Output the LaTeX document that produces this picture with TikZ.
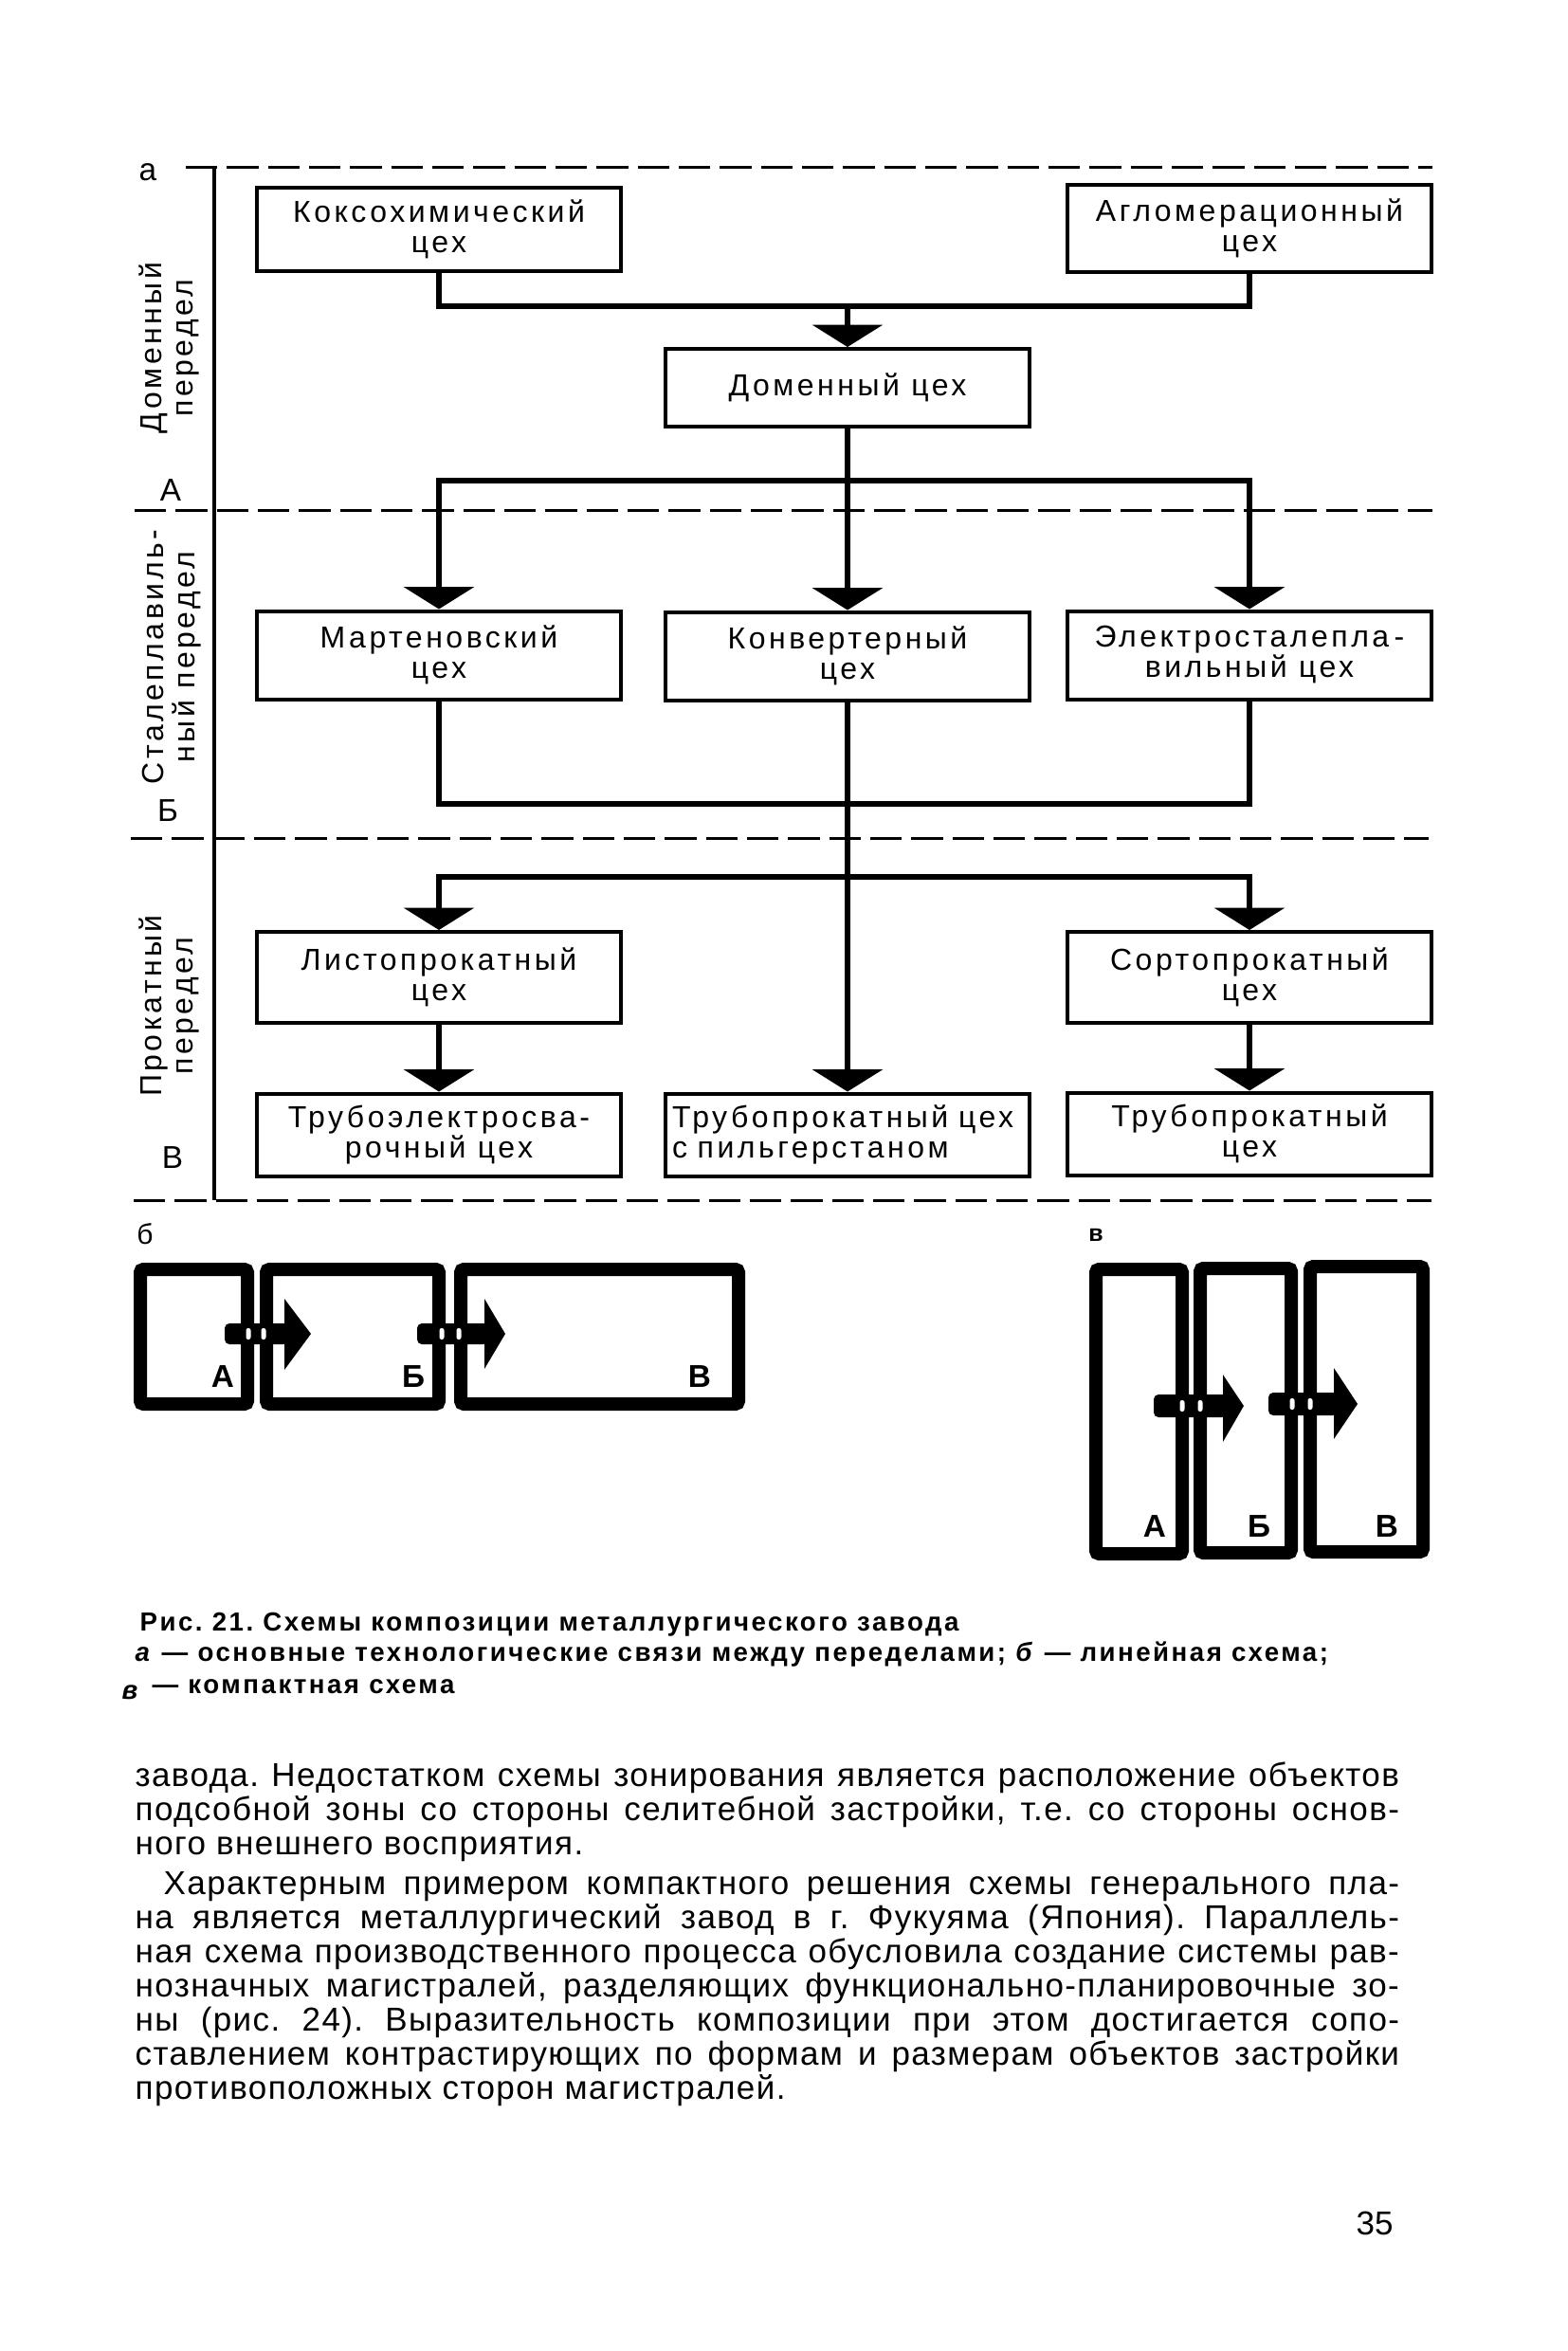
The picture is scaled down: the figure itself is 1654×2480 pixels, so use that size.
\documentclass[tikz,border=0pt]{standalone}
\usepackage{fontspec}
\setmainfont{Liberation Sans}
\newfontfamily\boxfont[LetterSpace=11]{Liberation Sans}
\newfontfamily\bodyfont[LetterSpace=4]{Liberation Sans}
\newfontfamily\capfont[LetterSpace=9]{Liberation Sans}
\usetikzlibrary{arrows.meta}
\frenchspacing
\tikzset{
  cbox/.style={draw, line width=1.2pt, minimum width=115.2pt, align=center, inner sep=0pt,
    font=\boxfont\fontsize{9.6pt}{9.6pt}\selectfont},
  conn/.style={line width=2pt},
  arr/.style={line width=2pt, -{Triangle[width=22pt,length=7pt]}},
  zone/.style={line width=0.9pt, dash pattern=on 10pt off 3pt},
  spine/.style={line width=1.1pt},
  zlabel/.style={rotate=90, align=center, inner sep=0pt, font=\boxfont\fontsize{9.6pt}{9.9pt}\selectfont},
  lvl/.style={inner sep=0pt, font=\fontsize{10pt}{12pt}\selectfont},
  slabel/.style={inner sep=0pt, font=\bfseries\fontsize{10pt}{12pt}\selectfont},
  wall/.style={line width=4.2pt, rounded corners=1pt},
  slit/.style={fill=white, rounded corners=0.7pt},
  bodyline/.style={anchor=base west, inner sep=0pt, font=\bodyfont\fontsize{10.5pt}{11pt}\selectfont},
  capline/.style={anchor=base west, inner sep=0pt, font=\capfont\bfseries\fontsize{8.3pt}{9pt}\selectfont}
}
\begin{document}
\begin{tikzpicture}[x=0.3pt,y=-0.3pt]
\fill[white] (0,0) rectangle (1654,2480);
\useasboundingbox (0,0) rectangle (1654,2480);

% zone lines
\coordinate (t0) at (196,176);  \coordinate (t1) at (1511,176);
\coordinate (a0) at (142,538);  \coordinate (a1) at (1511,538);
\coordinate (b0) at (138,884);  \coordinate (b1) at (1507,884);
\coordinate (v0) at (141,1266); \coordinate (v1) at (1510,1266);
\coordinate (s0) at (226,176);  \coordinate (s1) at (226,1266);
\draw[zone] (t0) -- (t1);
\draw[zone] (a0) -- (a1);
\draw[zone] (b0) -- (b1);
\draw[zone] (v0) -- (v1);
\draw[spine] (s0) -- (s1);

% labels on the left
\node[lvl] (la) at (156,182) {а};
\node[lvl] (lA) at (180,517) {А};
\node[lvl] (lB) at (177,855) {Б};
\node[lvl] (lV) at (182,1221) {В};
\node[zlabel] (z1) at (178,367) {Доменный\\передел};
\node[zlabel] (z2) at (181,693) {Сталеплавиль-\\ный передел};
\node[zlabel] (z3) at (178,1061) {Прокатный\\передел};

% boxes
\node[cbox, minimum height=26.4pt] (kok) at (463,242) {Коксохимический\\цех};
\node[cbox, minimum height=27.6pt] (agl) at (1318,241) {Агломерационный\\цех};
\node[cbox, minimum height=24.6pt] (dom) at (894,409) {Доменный цех};
\node[cbox, minimum height=27.9pt] (mar) at (463,691) {Мартеновский\\цех};
\node[cbox, minimum height=27.9pt] (kon) at (894,692) {Конвертерный\\цех};
\node[cbox, minimum height=27.9pt] (ele) at (1318,691) {Электросталепла\,-\\вильный цех};
\node[cbox, minimum height=28.8pt] (lis) at (463,1031) {Листопрокатный\\цех};
\node[cbox, minimum height=28.8pt] (sor) at (1318,1031) {Сортопрокатный\\цех};
\node[cbox, minimum height=26.1pt] (tre) at (463,1197) {Трубоэлектросва-\\рочный цех};
\node[cbox, minimum height=26.1pt, align=left, text width=111pt] (pil) at (894,1197) {Трубопрокатный цех\\с пильгерстаном};
\node[cbox, minimum height=26.1pt] (trp) at (1318,1196) {Трубопрокатный\\цех};

% junctions
\coordinate (j1) at (894,323);
\coordinate (j2) at (894,507);
\coordinate (j3) at (894,848);
\coordinate (j4) at (894,925);

% connectors
\draw[conn] (kok.south) |- (j1) -| (agl.south);
\draw[arr] (j1) -- (dom.north);
\draw[conn] (dom.south) -- (j2);
\draw[arr] (j2) -| (mar.north);
\draw[arr] (j2) -- (kon.north);
\draw[arr] (j2) -| (ele.north);
\draw[conn] (mar.south) |- (j3) -| (ele.south);
\draw[arr] (kon.south) -- (pil.north);
\draw[arr] (j4) -| (lis.north);
\draw[arr] (j4) -| (sor.north);
\draw[arr] (lis.south) -- (tre.north);
\draw[arr] (sor.south) -- (trp.north);

% scheme b (linear)
\node[inner sep=0pt, font=\fontsize{9pt}{11pt}\selectfont] (lb) at (153,1302) {б};
\draw[wall] (148,1339) rectangle (261,1481);
\draw[wall] (281,1339) rectangle (463,1481);
\draw[wall] (486,1339) rectangle (779,1481);
\fill[rounded corners=1.5pt] (237,1396) rectangle (304,1418);
\fill (300,1370) -- (328,1407) -- (300,1445) -- cycle;
\fill[rounded corners=1.5pt] (440,1396) rectangle (515,1418);
\fill (511,1370) -- (533,1407) -- (511,1444) -- cycle;
\fill[slit] (259.5,1401) rectangle (264.5,1413);
\fill[slit] (275.5,1401) rectangle (280.5,1413);
\fill[slit] (463.5,1401) rectangle (468.5,1413);
\fill[slit] (481.5,1401) rectangle (486.5,1413);
\node[slabel] (bA) at (235,1452) {А};
\node[slabel] (bB) at (436,1452) {Б};
\node[slabel] (bV) at (738,1452) {В};

% scheme v (compact)
\node[inner sep=0pt, font=\bfseries\fontsize{7.5pt}{9pt}\selectfont] (lv) at (1156,1303) {в};
\draw[wall] (1156,1339) rectangle (1247,1639);
\draw[wall] (1266,1338) rectangle (1362,1638);
\draw[wall] (1382,1336) rectangle (1501,1637);
\fill[rounded corners=1.5pt] (1217,1471) rectangle (1294,1495);
\fill (1290,1450) -- (1312,1483) -- (1290,1521) -- cycle;
\fill[rounded corners=1.5pt] (1338,1469) rectangle (1411,1493);
\fill (1407,1443) -- (1432,1481) -- (1407,1518) -- cycle;
\fill[slit] (1244.5,1477) rectangle (1249.5,1489);
\fill[slit] (1263.5,1477) rectangle (1268.5,1489);
\fill[slit] (1360.5,1475) rectangle (1365.5,1487);
\fill[slit] (1379.5,1475) rectangle (1384.5,1487);
\node[slabel] (vA) at (1218,1610) {А};
\node[slabel] (vB) at (1328,1610) {Б};
\node[slabel] (vV) at (1463,1610) {В};

% caption
\node[capline] (c1) at (147,1720) {Рис. 21. Схемы композиции металлургического завода};
\node[capline] (c2) at (142,1752) {\textit{а} — основные технологические связи между переделами; \textit{б} — линейная схема;};
\node[capline] (c3v) at (128,1792) {\textit{в}};
\node[capline] (c3) at (160,1786) {— компактная схема};

% body text
\node[bodyline] (p1) at (142,1884) {\makebox[400pt][s]{завода. Недостатком схемы зонирования является расположение объектов}};
\node[bodyline] (p2) at (142,1920) {\makebox[400pt][s]{подсобной зоны со стороны селитебной застройки, т.е. со стороны основ-}};
\node[bodyline] (p3) at (142,1956) {ного внешнего восприятия.};
\node[bodyline] (p4) at (172,1998) {\makebox[391pt][s]{Характерным примером компактного решения схемы генерального пла-}};
\node[bodyline] (p5) at (142,2034) {\makebox[400pt][s]{на является металлургический завод в г. Фукуяма (Япония). Параллель-}};
\node[bodyline] (p6) at (142,2070) {\makebox[400pt][s]{ная схема производственного процесса обусловила создание системы рав-}};
\node[bodyline] (p7) at (142,2106) {\makebox[400pt][s]{нозначных магистралей, разделяющих функционально-планировочные зо-}};
\node[bodyline] (p8) at (142,2142) {\makebox[400pt][s]{ны (рис. 24). Выразительность композиции при этом достигается сопо-}};
\node[bodyline] (p9) at (142,2178) {\makebox[400pt][s]{ставлением контрастирующих по формам и размерам объектов застройки}};
\node[bodyline] (p10) at (142,2214) {противоположных сторон магистралей.};

% page number
\node[anchor=base, inner sep=0pt, font=\fontsize{10.5pt}{12pt}\selectfont] (pg) at (1450,2357) {35};
\end{tikzpicture}
\end{document}
